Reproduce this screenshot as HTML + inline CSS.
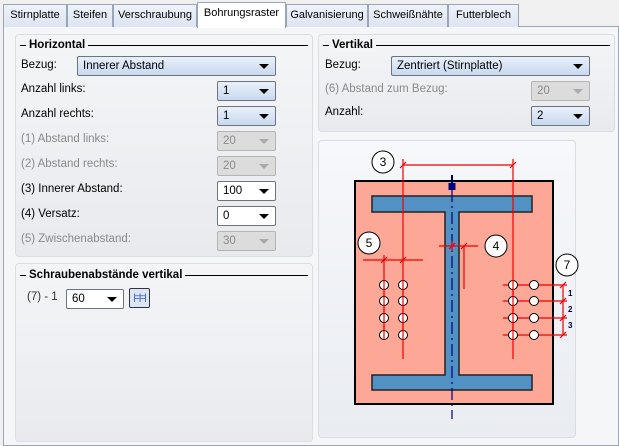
<!DOCTYPE html>
<html><head><meta charset="utf-8"><style>
*{box-sizing:border-box;margin:0;padding:0}
body{width:619px;height:446px;overflow:hidden;background:#f0f0f0;font-family:"Liberation Sans","DejaVu Sans",sans-serif;font-size:11px;color:#000;position:relative}
.abs{position:absolute}
.tabbar{left:0;top:0;width:619px;height:27px;background:#f0f0f0}
.tab{position:absolute;top:4px;height:23px;border:1px solid #9aa5b8;border-bottom:none;background:linear-gradient(#eef2f9,#dde5f2);font-size:11px;line-height:21px;text-align:center;color:#000;white-space:nowrap}
.tab.act{top:2px;height:26px;background:#fff;z-index:2}
.body{left:3px;top:26px;width:616px;height:420px;border:1px solid #9aa5b8;background:#f5f6f8}
.grp{border:1px solid #dadde2;border-radius:4px;background:linear-gradient(#f4f5f7,#e8eaee)}
.gt{position:absolute;font-weight:bold;font-size:11.5px;white-space:nowrap;background:#f4f5f7;padding:0 3px;line-height:14px}
.gl{position:absolute;height:1px;background:#000}
.lbl{position:absolute;font-size:11.5px;white-space:nowrap}
.dis{color:#8a8a8a}
.cb{position:absolute;height:20px;border:1px solid #6d7480;border-radius:2px;background:linear-gradient(#e9f0fa,#c8d9ef);font-size:11.5px;line-height:18px;padding-left:5px}
.cb.w{background:#fff}
.cb.d{background:#dcdcdc;border-color:#b5b5b5;color:#8a8a8a}
.cb:after{content:"";position:absolute;right:6px;top:7px;border-left:5px solid transparent;border-right:5px solid transparent;border-top:5px solid #000}
.cb.d:after{border-top-color:#aaa}
</style></head><body>
<div class="abs tabbar"></div>
<div class="abs body"></div>
<div class="tab" style="left:3px;width:64px">Stirnplatte</div>
<div class="tab" style="left:67px;width:46px">Steifen</div>
<div class="tab" style="left:113px;width:84px">Verschraubung</div>
<div class="tab act" style="left:197px;width:89px">Bohrungsraster</div>
<div class="tab" style="left:286px;width:82px">Galvanisierung</div>
<div class="tab" style="left:368px;width:80px">Schweißnähte</div>
<div class="tab" style="left:448px;width:71px">Futterblech</div>

<div class="abs grp" style="left:15px;top:34px;width:298px;height:223px"></div>
<div class="gl" style="left:20px;top:45px;width:288px"></div>
<div class="gt" style="left:26px;top:38px">Horizontal</div>
<div class="lbl" style="left:21px;top:59px">Bezug:</div>
<div class="cb" style="left:77px;top:56px;width:199px">Innerer Abstand</div>
<div class="lbl" style="left:21px;top:83px">Anzahl links:</div>
<div class="cb" style="left:217px;top:81px;width:59px">1</div>
<div class="lbl" style="left:21px;top:108px">Anzahl rechts:</div>
<div class="cb" style="left:217px;top:106px;width:59px">1</div>
<div class="lbl dis" style="left:21px;top:133px">(1) Abstand links:</div>
<div class="cb d" style="left:217px;top:131px;width:59px">20</div>
<div class="lbl dis" style="left:21px;top:158px">(2) Abstand rechts:</div>
<div class="cb d" style="left:217px;top:156px;width:59px">20</div>
<div class="lbl" style="left:21px;top:183px">(3) Innerer Abstand:</div>
<div class="cb w" style="left:217px;top:181px;width:59px">100</div>
<div class="lbl" style="left:21px;top:208px">(4) Versatz:</div>
<div class="cb w" style="left:217px;top:206px;width:59px">0</div>
<div class="lbl dis" style="left:21px;top:233px">(5) Zwischenabstand:</div>
<div class="cb d" style="left:217px;top:231px;width:59px">30</div>

<div class="abs grp" style="left:15px;top:263px;width:298px;height:179px"></div>
<div class="gl" style="left:20px;top:275px;width:288px"></div>
<div class="gt" style="left:26px;top:268px">Schraubenabstände vertikal</div>
<div class="lbl" style="left:27px;top:291px;color:#333">(7) - 1</div>
<div class="cb w" style="left:66px;top:289px;width:58px">60</div>
<div class="abs" style="left:129px;top:288px;width:21px;height:20px;border:1px solid #334;border-radius:2px;background:#dbe6f5;color:#1a3fa0;font-size:9px;line-height:17px;text-align:center;overflow:hidden;letter-spacing:-1px">|=|=|</div>

<div class="abs grp" style="left:318px;top:34px;width:297px;height:98px"></div>
<div class="gl" style="left:323px;top:45px;width:287px"></div>
<div class="gt" style="left:329px;top:38px">Vertikal</div>
<div class="lbl" style="left:325px;top:59px">Bezug:</div>
<div class="cb" style="left:391px;top:56px;width:199px">Zentriert (Stirnplatte)</div>
<div class="lbl dis" style="left:325px;top:83px">(6) Abstand zum Bezug:</div>
<div class="cb d" style="left:531px;top:81px;width:59px">20</div>
<div class="lbl" style="left:325px;top:106px">Anzahl:</div>
<div class="cb" style="left:531px;top:106px;width:59px">2</div>

<div class="abs grp" style="left:318px;top:140px;width:258px;height:298px;background:linear-gradient(#f6f8fb,#e9ecf1)"></div>
<svg class="abs" style="left:0;top:0" width="619" height="446" viewBox="0 0 619 446">
<rect x="355" y="181" width="198" height="223" fill="#fda896" stroke="#000" stroke-width="2"/>
<path d="M372 196H532V212H459V375H532V390H372V375H445V212H372Z" fill="#5191c3" stroke="#222" stroke-width="1.5"/>
<line x1="452" y1="190" x2="452" y2="419" stroke="#00007a" stroke-width="1.2" stroke-dasharray="12,4,2,4"/>
<rect x="448.5" y="183" width="7" height="7" fill="#00007a"/>
<rect x="451" y="175" width="2" height="10" fill="#00007a"/>
<g stroke="#e00" stroke-width="1.2" fill="none">
<line x1="403" y1="159" x2="403" y2="359"/><line x1="513" y1="159" x2="513" y2="359"/>
<line x1="403" y1="165" x2="513" y2="165"/>
<line x1="363" y1="260" x2="423" y2="260"/><line x1="384" y1="255" x2="384" y2="335"/>
<line x1="439" y1="246" x2="478" y2="246"/><line x1="464" y1="246" x2="464" y2="289"/><line x1="452" y1="241" x2="452" y2="251"/>
<line x1="503" y1="285" x2="567" y2="285"/><line x1="503" y1="301" x2="567" y2="301"/><line x1="503" y1="318" x2="567" y2="318"/><line x1="503" y1="335" x2="567" y2="335"/>
<line x1="563" y1="285" x2="563" y2="335"/>
<path d="M400 168l6-6M510 168l6-6M381 263l6-6M400 263l6-6M449 249l6-6M461 249l6-6M560 288l6-6M560 304l6-6M560 321l6-6M560 338l6-6"/>
</g>
<g fill="#fff" stroke="#000" stroke-width="1">
<circle cx="384" cy="285" r="4.5"/><circle cx="403" cy="285" r="4.5"/>
<circle cx="384" cy="301" r="4.5"/><circle cx="403" cy="301" r="4.5"/>
<circle cx="384" cy="318" r="4.5"/><circle cx="403" cy="318" r="4.5"/>
<circle cx="384" cy="335" r="4.5"/><circle cx="403" cy="335" r="4.5"/>
<circle cx="513" cy="285" r="4.5"/><circle cx="534" cy="285" r="4.5"/>
<circle cx="513" cy="301" r="4.5"/><circle cx="534" cy="301" r="4.5"/>
<circle cx="513" cy="318" r="4.5"/><circle cx="534" cy="318" r="4.5"/>
<circle cx="513" cy="335" r="4.5"/><circle cx="534" cy="335" r="4.5"/>
<circle cx="383" cy="162" r="11"/><circle cx="369" cy="243" r="11"/><circle cx="496" cy="246" r="11"/><circle cx="567" cy="265" r="11"/>
</g>
<g stroke="#e00" stroke-width="1.2"><line x1="384" y1="280" x2="384" y2="340"/><line x1="403" y1="280" x2="403" y2="340"/><line x1="513" y1="280" x2="513" y2="340"/></g>
<g font-family="Liberation Sans, sans-serif" font-size="12" text-anchor="middle">
<text x="383" y="166">3</text><text x="369" y="247">5</text><text x="496" y="250">4</text><text x="567" y="269">7</text>
</g>
<g font-family="Liberation Sans, sans-serif" font-size="8" font-weight="bold" fill="#000040">
<text x="568" y="296">1</text><text x="568" y="312">2</text><text x="568" y="328">3</text>
</g>
</svg>
</body></html>
